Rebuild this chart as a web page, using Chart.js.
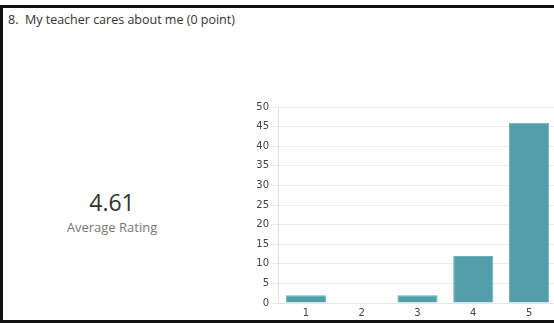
<!DOCTYPE html>
<html lang="en">
<head>
    <meta charset="UTF-8">
    <title>Survey question 8</title>
    <style>
        body {
            margin: 0;
            width: 554px;
            height: 323px;
            overflow: hidden;
            background: #ffffff;
            font-family: "Open Sans", "Noto Sans", sans-serif;
            position: relative;
        }

        .frame {
            position: absolute;
            left: 0;
            top: 5px;
            width: 600px;
            height: 312px;
            border-top: 3px solid #111;
            border-left: 3px solid #111;
            border-bottom: 3px solid #111;
            z-index: 2;
            pointer-events: none;
        }

        .question {
            position: absolute;
            left: 8px;
            top: 11px;
            font-size: 12.5px;
            color: #333;
        }

        .rating {
            position: absolute;
            left: 22px;
            width: 180px;
            top: 187px;
            text-align: center;
        }

        .rating .value {
            font-size: 23px;
            color: #333;
            line-height: 30px;
        }

        .rating .label {
            font-size: 13px;
            color: #777;
            line-height: 20px;
        }

        .chart-container {
            position: absolute;
            left: 240px;
            top: 95px;
            width: 317px;
            height: 225px;
        }
    </style>
</head>
<body>
    <div class="frame"></div>
    <div class="question">8.&nbsp; My teacher cares about me (0 point)</div>
    <div class="rating">
        <div class="value">4.61</div>
        <div class="label">Average Rating</div>
    </div>
    <div class="chart-container">
        <canvas id="ratingChart"></canvas>
    </div>
    <script src="https://cdn.jsdelivr.net/npm/chart.js"></script>
    <script>
        var ratings = ['1', '2', '3', '4', '5'];
        var responses = [2, 0, 2, 12, 46];
        var yTicks = [0, 5, 10, 15, 20, 25, 30, 35, 40, 45, 50];

        var ctx = document.getElementById('ratingChart').getContext('2d');

        new Chart(ctx, {
            type: 'bar',
            data: {
                labels: ratings,
                datasets: [{
                    data: responses,
                    backgroundColor: '#529fab',
                    borderColor: '#6fb1bb',
                    borderWidth: 1,
                    categoryPercentage: 1,
                    barPercentage: 0.72
                }]
            },
            options: {
                responsive: true,
                maintainAspectRatio: false,
                animation: false,
                layout: {
                    padding: { top: 12, right: 0, left: 0, bottom: 0 }
                },
                plugins: {
                    legend: { display: false },
                    tooltip: { enabled: false }
                },
                scales: {
                    x: {
                        grid: { display: false, drawTicks: false, tickLength: 0 },
                        border: { color: '#e6e6e6' },
                        ticks: {
                            color: '#444',
                            padding: 4,
                            font: { family: 'DejaVu Sans', size: 10 }
                        },
                        afterFit: function (scale) {
                            scale.height = 17;
                        }
                    },
                    y: {
                        min: 0,
                        max: 50,
                        afterBuildTicks: function (scale) {
                            scale.ticks = yTicks.map(function (v) { return { value: v }; });
                        },
                        grid: {
                            color: '#ececec',
                            tickLength: 7
                        },
                        border: { color: '#e0e0e0' },
                        ticks: {
                            color: '#444',
                            padding: 2,
                            font: { family: 'DejaVu Sans', size: 10 }
                        },
                        afterFit: function (scale) {
                            scale.width = 38;
                        }
                    }
                }
            }
        });
    </script>
</body>
</html>
